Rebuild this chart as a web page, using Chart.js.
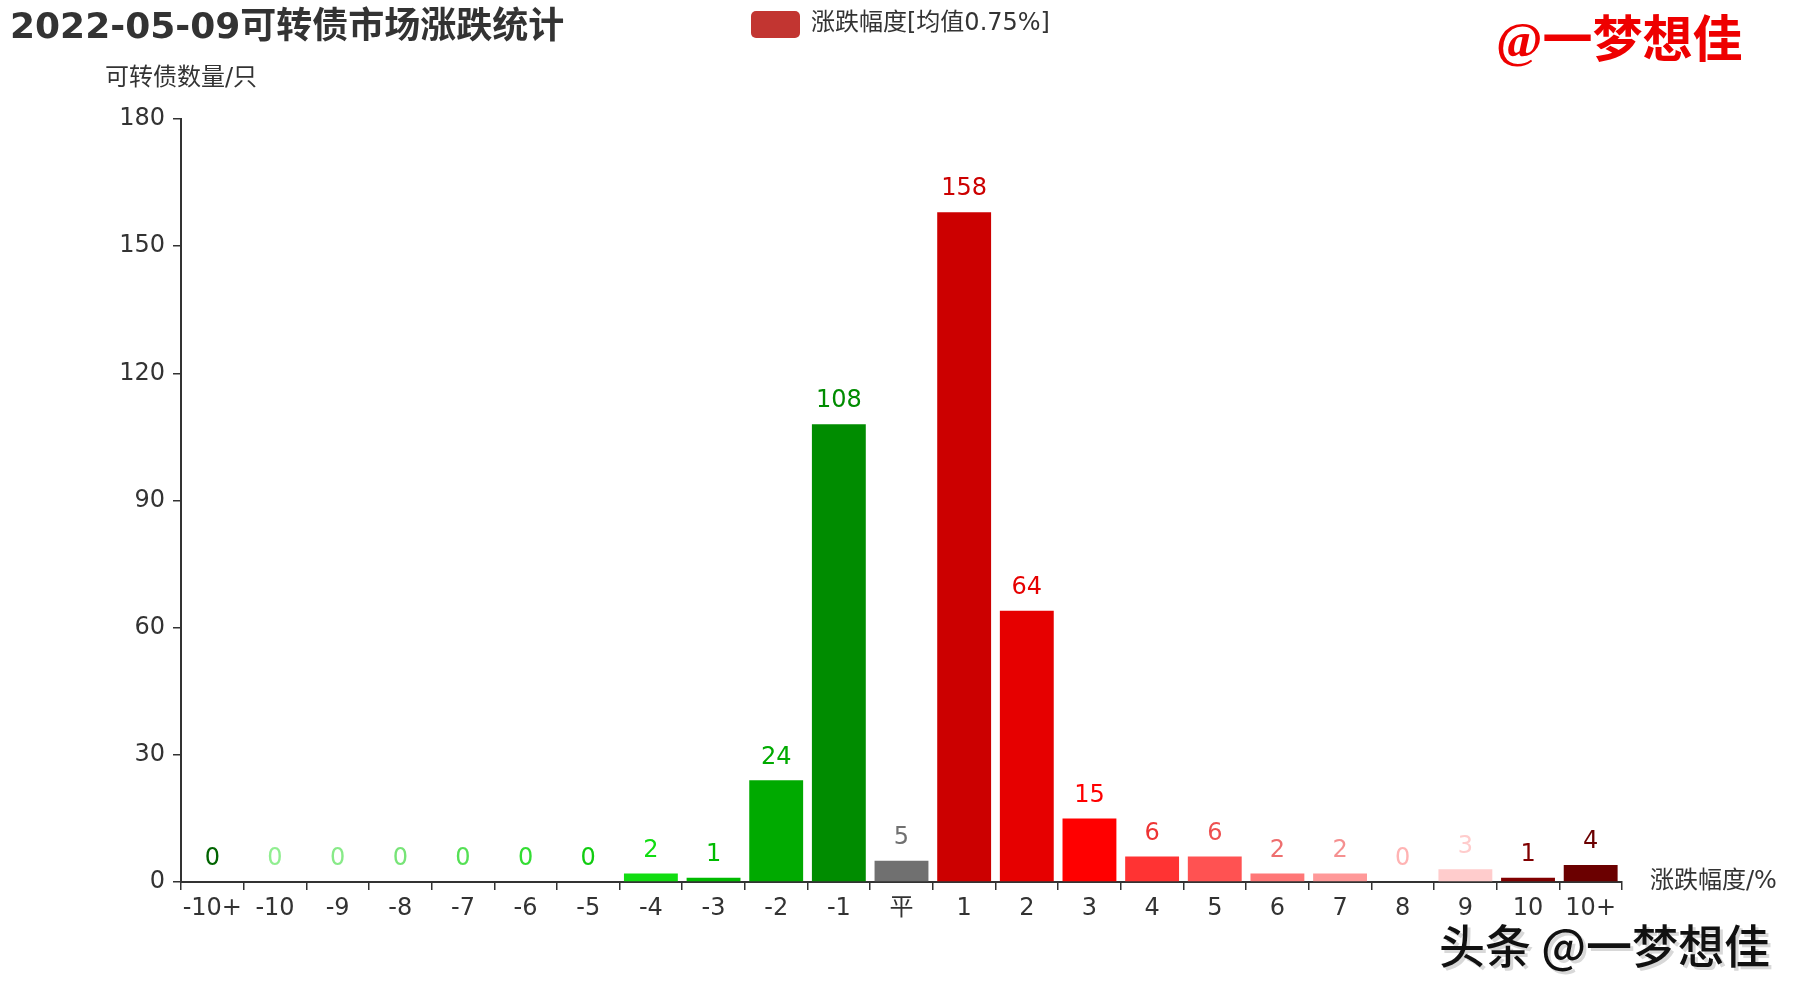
<!DOCTYPE html>
<html>
<head>
<meta charset="utf-8">
<script src="https://cdn.jsdelivr.net/npm/chart.js@4.4.1/dist/chart.umd.min.js"></script>
<style>
  html, body { margin: 0; padding: 0; background: #ffffff; }
  #wrap { width: 1800px; height: 1000px; position: relative; }
</style>
</head>
<body>
<div id="wrap"><canvas id="c" width="1800" height="1000"></canvas></div>
<script>
// ---- data ----
const titleText = '2022-05-09可转债市场涨跌统计';
const legendText = '涨跌幅度[均值0.75%]';
const yAxisName = '可转债数量/只';
const xAxisName = '涨跌幅度/%';
const brandText = '@一梦想佳';
const watermarkText = '头条 @一梦想佳';

const categories = ['-10+','-10','-9','-8','-7','-6','-5','-4','-3','-2','-1','平','1','2','3','4','5','6','7','8','9','10','10+'];
const counts     = [0, 0, 0, 0, 0, 0, 0, 2, 1, 24, 108, 5, 158, 64, 15, 6, 6, 2, 2, 0, 3, 1, 4];
const barColors  = ['#006400','#90ee90','#88ea88','#77e477','#55e055','#33dd33','#11cc11','#11dd11','#00bb00','#00aa00','#008c00',
                    '#707070',
                    '#cc0000','#e60000','#ff0000','#ff3333','#ff5252','#ff7777','#ff9999','#ffb3b3','#ffcccc','#800000','#6b0000'];
const labelColors = ['#006400','#90ee90','#88ea88','#77e477','#55e055','#33dd33','#11cc11','#11dd11','#00bb00','#00aa00','#008c00',
                    '#707070',
                    '#cc0000','#e60000','#ff0000','#ee3333','#ee5050','#ee6e6e','#f59090','#ffb3b3','#ffcccc','#800000','#6b0000'];
const yMin = 0, yMax = 180, yStep = 30;

const SANS = '"DejaVu Sans", "Noto Sans CJK SC", sans-serif';

const overlayPlugin = {
  id: 'overlay',
  afterDatasetsDraw(chart) {
    const ctx = chart.ctx;
    const meta = chart.getDatasetMeta(0);
    ctx.save();
    ctx.font = '24px ' + SANS;
    ctx.textAlign = 'center';
    ctx.textBaseline = 'middle';
    meta.data.forEach((bar, i) => {
      ctx.fillStyle = labelColors[i];
      ctx.fillText(String(counts[i]), bar.x, bar.y - 23);
    });
    ctx.restore();
  },
  afterDraw(chart) {
    const ctx = chart.ctx;
    const area = chart.chartArea;
    ctx.save();
    // title
    ctx.fillStyle = '#333333';
    ctx.font = 'bold 36px ' + SANS;
    ctx.textAlign = 'left';
    ctx.textBaseline = 'middle';
    ctx.fillText(titleText, 10, 29);
    // legend
    ctx.fillStyle = '#c23531';
    const lx = 751, ly = 11, lw = 49, lh = 27, r = 5;
    ctx.beginPath();
    ctx.moveTo(lx + r, ly);
    ctx.arcTo(lx + lw, ly, lx + lw, ly + lh, r);
    ctx.arcTo(lx + lw, ly + lh, lx, ly + lh, r);
    ctx.arcTo(lx, ly + lh, lx, ly, r);
    ctx.arcTo(lx, ly, lx + lw, ly, r);
    ctx.closePath();
    ctx.fill();
    ctx.fillStyle = '#333333';
    ctx.font = '24px ' + SANS;
    ctx.fillText(legendText, 811, 24);
    // brand
    ctx.fillStyle = '#ee0000';
    ctx.font = 'bold 50px "Liberation Serif", "Noto Sans CJK SC", serif';
    ctx.fillText(brandText, 1496, 44);
    // y axis name
    ctx.fillStyle = '#333333';
    ctx.font = '24px ' + SANS;
    ctx.textAlign = 'center';
    ctx.fillText(yAxisName, area.left, area.top - 40);
    // x axis name
    ctx.textAlign = 'left';
    ctx.fillText(xAxisName, area.right + 28, area.bottom);
    // watermark
    ctx.font = '500 46px "Noto Sans CJK SC", sans-serif';
    ctx.textAlign = 'left';
    ctx.fillStyle = '#d8d8d8';
    ctx.fillText(watermarkText, 1442, 949);
    ctx.fillStyle = '#111111';
    ctx.fillText(watermarkText, 1439, 946);
    ctx.restore();
  }
};

new Chart(document.getElementById('c'), {
  type: 'bar',
  data: {
    labels: categories,
    datasets: [{
      data: counts,
      backgroundColor: barColors,
      borderWidth: 0,
      barPercentage: 0.86,
      categoryPercentage: 1.0
    }]
  },
  options: {
    responsive: false,
    devicePixelRatio: 1,
    animation: false,
    layout: { padding: { top: 119, right: 178, left: 0, bottom: 0 } },
    plugins: { legend: { display: false }, title: { display: false }, tooltip: { enabled: false } },
    scales: {
      x: {
        grid: { drawOnChartArea: false, offset: true, tickLength: 8, color: '#333333', lineWidth: 1.5 },
        border: { color: '#333333', width: 2 },
        ticks: { color: '#333333', font: { size: 24, family: SANS }, padding: 4, maxRotation: 0, autoSkip: false },
        afterFit(scale) { scale.height = 118; }
      },
      y: {
        min: yMin, max: yMax,
        grid: { drawOnChartArea: false, tickLength: 8, color: '#333333', lineWidth: 1.5 },
        border: { color: '#333333', width: 2 },
        ticks: { stepSize: yStep, color: '#333333', font: { size: 24, family: SANS }, padding: 8 },
        afterFit(scale) { scale.width = 181; }
      }
    }
  },
  plugins: [overlayPlugin]
});
</script>
</body>
</html>
